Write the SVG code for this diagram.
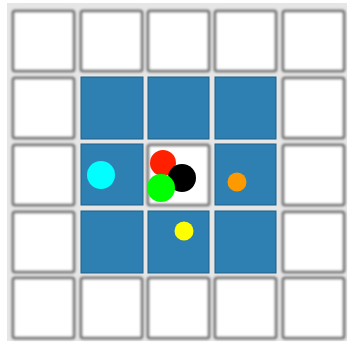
<svg xmlns="http://www.w3.org/2000/svg" width="351" height="342" viewBox="0 0 351 342">
<defs>
<filter id="bl" x="-10%" y="-10%" width="120%" height="120%"><feGaussianBlur stdDeviation="0.8"/></filter>
<style>
.w{fill:#fff;stroke:#7c7c7c;stroke-width:3;filter:url(#bl)}
.b{fill:#2e7fb2;stroke:#1f5f86;stroke-width:1}
</style>
</defs>
<rect x="0" y="0" width="351" height="342" fill="#fff"/>
<rect x="7" y="3" width="340" height="338" fill="#e6e6e6"/>
<g id="cells">
<rect class="w" x="13" y="11" width="61" height="60" rx="2"/>
<rect class="w" x="81" y="11" width="61" height="60" rx="2"/>
<rect class="w" x="148" y="11" width="61" height="60" rx="2"/>
<rect class="w" x="215" y="11" width="61" height="60" rx="2"/>
<rect class="w" x="283" y="11" width="61" height="60" rx="2"/>
<rect class="w" x="13" y="78" width="61" height="60" rx="2"/>
<rect class="w" x="283" y="78" width="61" height="60" rx="2"/>
<rect class="w" x="13" y="145" width="61" height="60" rx="2"/>
<rect class="w" x="148" y="145" width="61" height="60" rx="2"/>
<rect class="w" x="283" y="145" width="61" height="60" rx="2"/>
<rect class="w" x="13" y="212" width="61" height="60" rx="2"/>
<rect class="w" x="283" y="212" width="61" height="60" rx="2"/>
<rect class="w" x="13" y="278" width="61" height="60" rx="2"/>
<rect class="w" x="81" y="278" width="61" height="60" rx="2"/>
<rect class="w" x="148" y="278" width="61" height="60" rx="2"/>
<rect class="w" x="215" y="278" width="61" height="60" rx="2"/>
<rect class="w" x="283" y="278" width="61" height="60" rx="2"/>
<rect class="b" x="81" y="77" width="62" height="62"/>
<rect class="b" x="148" y="77" width="61" height="62"/>
<rect class="b" x="215" y="77" width="61" height="62"/>
<rect class="b" x="81" y="144" width="62" height="61"/>
<rect class="b" x="215" y="144" width="61" height="61"/>
<rect class="b" x="81" y="211" width="62" height="62"/>
<rect class="b" x="148" y="211" width="61" height="62"/>
<rect class="b" x="215" y="211" width="61" height="62"/>
</g>
<g id="agents">
<circle cx="101" cy="175" r="14" fill="#00ffff"/>
<circle cx="163" cy="163" r="13" fill="#ff2000"/>
<circle cx="182" cy="178" r="14" fill="#000"/>
<circle cx="161" cy="188" r="14" fill="#00ff00"/>
<circle cx="237" cy="182" r="9.5" fill="#ff9900"/>
<circle cx="184" cy="231" r="9.5" fill="#ffff00"/>
</g>
</svg>
